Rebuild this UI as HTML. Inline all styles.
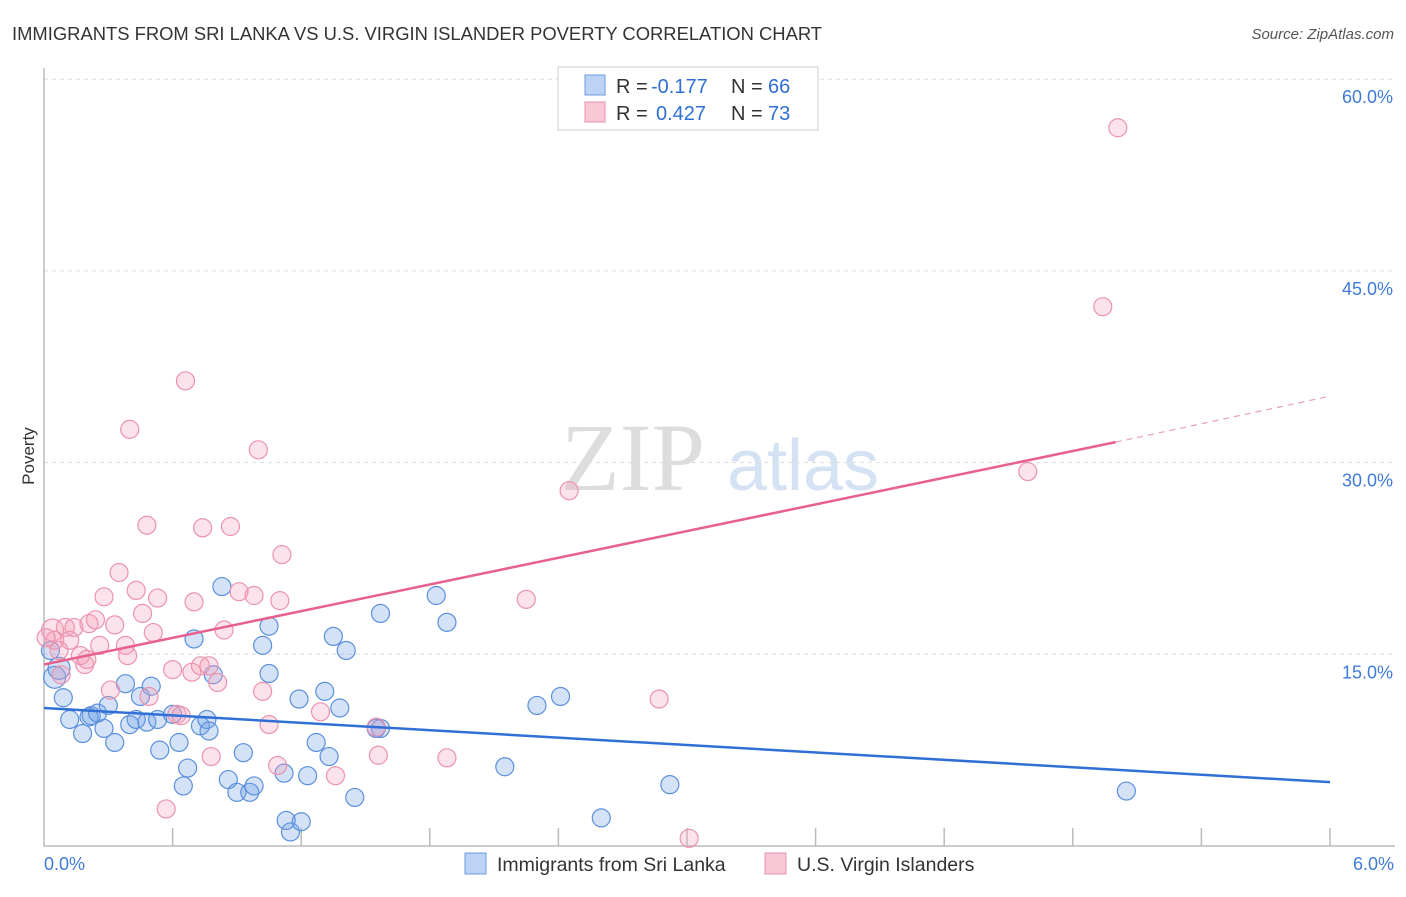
<!DOCTYPE html>
<html><head><meta charset="utf-8"><style>
body{margin:0;background:#fff;font-family:"Liberation Sans",sans-serif}
</style></head><body>
<svg width="1406" height="892" xmlns="http://www.w3.org/2000/svg">
<text x="12" y="40" font-size="18.4" fill="#333">IMMIGRANTS FROM SRI LANKA VS U.S. VIRGIN ISLANDER POVERTY CORRELATION CHART</text>
<text x="1394" y="39" font-size="15" fill="#555" font-style="italic" text-anchor="end">Source: ZipAtlas.com</text>
<text x="633" y="490" font-size="96" fill="#ddd" font-family="Liberation Serif,serif" text-anchor="middle">ZIP</text>
<text x="803" y="490" font-size="72" fill="#d4e2f3" text-anchor="middle">atlas</text>
<g id="grid"></g>
<g id="axes"></g>
<g id="pts"></g>
<g id="lines"></g>
<text x="34" y="456" font-size="17" fill="#333" transform="rotate(-90 34 456)" text-anchor="middle">Poverty</text>
<g font-size="20" fill="#333">
<rect x="558" y="67" width="260" height="63" fill="#fff" stroke="#ccc"/>
<rect x="585" y="75" width="20" height="20" fill="#bcd3f5" stroke="#6a9be0"/>
<rect x="585" y="102" width="20" height="20" fill="#f9c8d6" stroke="#e892ab"/>
<text x="616" y="93">R =</text><text x="651" y="93" fill="#2f6fd6">-0.177</text>
<text x="731" y="93">N =</text><text x="768" y="93" fill="#2f6fd6">66</text>
<text x="616" y="120">R =</text><text x="656" y="120" fill="#2f6fd6">0.427</text>
<text x="731" y="120">N =</text><text x="768" y="120" fill="#2f6fd6">73</text>
</g>
<g>
<rect x="465" y="853" width="21" height="21" fill="#bcd3f5" stroke="#6a9be0"/>
<text x="497" y="871" font-size="19.5" fill="#333">Immigrants from Sri Lanka</text>
<rect x="765" y="853" width="21" height="21" fill="#f9c8d6" stroke="#e892ab"/>
<text x="797" y="871" font-size="19.5" fill="#333">U.S. Virgin Islanders</text>
</g>
</svg>
<script>
const yTicks=[15,30,45,60];
const yTickLabels=["15.0%","30.0%","45.0%","60.0%"];
const xTickLabels=["0.0%","6.0%"];
const blueX=[.05,.07,.09,.12,.18,.21,.22,.25,.28,.30,.33,.38,.40,.43,.45,.48,.50,.53,.54,.60,.63,.65,.67,.70,.73,.76,.77,.79,.83,.86,.90,.93,.96,.98,1.02,1.05,1.05,1.12,1.13,1.15,1.19,1.20,1.23,1.27,1.31,1.33,1.35,1.38,1.41,1.45,1.55,1.57,1.57,1.83,1.88,2.15,2.30,2.41,2.60,2.92,5.05,.03];
const blueY=[13.2,13.9,11.6,9.9,8.8,10.1,10.2,10.4,9.2,11.0,8.1,12.7,9.5,9.9,11.7,9.7,12.5,9.9,7.5,10.3,8.1,4.7,6.1,16.2,9.4,9.9,9.0,13.4,20.3,5.2,4.2,7.3,4.2,4.7,15.7,13.5,17.2,5.7,2.0,1.1,11.5,1.9,5.5,8.1,12.1,7.0,16.4,10.8,15.3,3.8,9.2,9.2,18.2,19.6,17.5,6.2,11.0,11.7,2.2,4.8,4.3,15.3];
const pinkX=[.04,.05,.07,.08,.10,.12,.14,.17,.19,.20,.21,.24,.26,.28,.31,.33,.35,.38,.39,.40,.43,.46,.48,.49,.51,.53,.57,.60,.62,.64,.66,.69,.70,.73,.74,.77,.78,.81,.84,.87,.91,.98,1.00,1.02,1.05,1.09,1.10,1.11,1.29,1.36,1.55,1.56,1.88,2.25,2.45,2.87,3.01,4.59,4.94,5.01,.01];
const pinkY=[16.9,16.1,15.3,13.4,17.1,16.1,17.1,14.9,14.2,14.6,17.4,17.7,15.7,19.5,12.2,17.3,21.4,15.7,14.9,32.6,20.0,18.2,25.1,11.7,16.7,19.4,2.9,13.8,10.3,10.2,36.4,13.6,19.1,14.1,24.9,14.1,7.0,12.8,16.9,25.0,19.9,19.6,31.0,12.1,9.5,6.3,19.2,22.8,10.5,5.5,9.3,7.1,6.9,19.3,27.8,11.5,0.6,29.3,42.2,56.2,16.3];
const blueTrend=[[0,10.8],[6,5.0]];
const pinkTrend=[[0,14.2],[5.0,31.6]];
const pinkDash=[[5.0,31.6],[6,35.2]];
const NS="http://www.w3.org/2000/svg";
const X=v=>44+v*(1330-44)/6, Y=v=>846-v*12.78;
function mk(p,t,a){const e=document.createElementNS(NS,t);for(const k in a)e.setAttribute(k,a[k]);document.getElementById(p).appendChild(e);return e;}
yTicks.forEach((t,i)=>{
 const g=mk('grid','line',{x1:44,x2:1395,y1:Y(t),y2:Y(t),stroke:'#ddd','stroke-dasharray':'4,4'});
 
 
 const l=mk('grid','text',{x:1393,y:Y(t)+24,'font-size':18,fill:'#3f7bd8','text-anchor':'end'});
 l.textContent=yTickLabels[i];
 
 
});
const ax=mk('axes','path',{d:'M44 68V846H1395',fill:'none',stroke:'#bbb','stroke-width':1.5});


for(let i=1;i<=10;i++){const t=mk('axes','line',{x1:X(i*0.6),x2:X(i*0.6),y1:828,y2:846,stroke:'#bbb','stroke-width':1.5});
 
 }
[[0,44,'start'],[1,1394,'end']].forEach(([i,x,a])=>{const t=mk('axes','text',{x:x,y:870,'font-size':18,fill:'#3f7bd8','text-anchor':a});t.textContent=xTickLabels[i];
 
 });
blueX.forEach((v,i)=>{const c=mk('pts','circle',{cx:X(v),cy:Y(blueY[i]),r:i<2?11:9,fill:'rgba(110,160,230,0.3)',stroke:'#5b90dc','stroke-width':1.2});
 
 });
pinkX.forEach((v,i)=>{const c=mk('pts','circle',{cx:X(v),cy:Y(pinkY[i]),r:i<1?11:9,fill:'rgba(245,160,185,0.3)',stroke:'#ea93ad','stroke-width':1.2});
 
 });
function line(d,col,dash,name){const l=mk('lines','line',{x1:X(d[0][0]),y1:Y(d[0][1]),x2:X(d[1][0]),y2:Y(d[1][1]),stroke:col,'stroke-width':dash?1.2:2.5});
 if(dash)l.setAttribute('stroke-dasharray','6,5');
 
 }
line(blueTrend,'#2f6fd6',false,'sri-lanka-trendline');
line(pinkTrend,'#e8608f',false,'virgin-islander-trendline');
line(pinkDash,'#e8a0b8',true,'virgin-islander-trend-extension');
</script>
</body></html>
